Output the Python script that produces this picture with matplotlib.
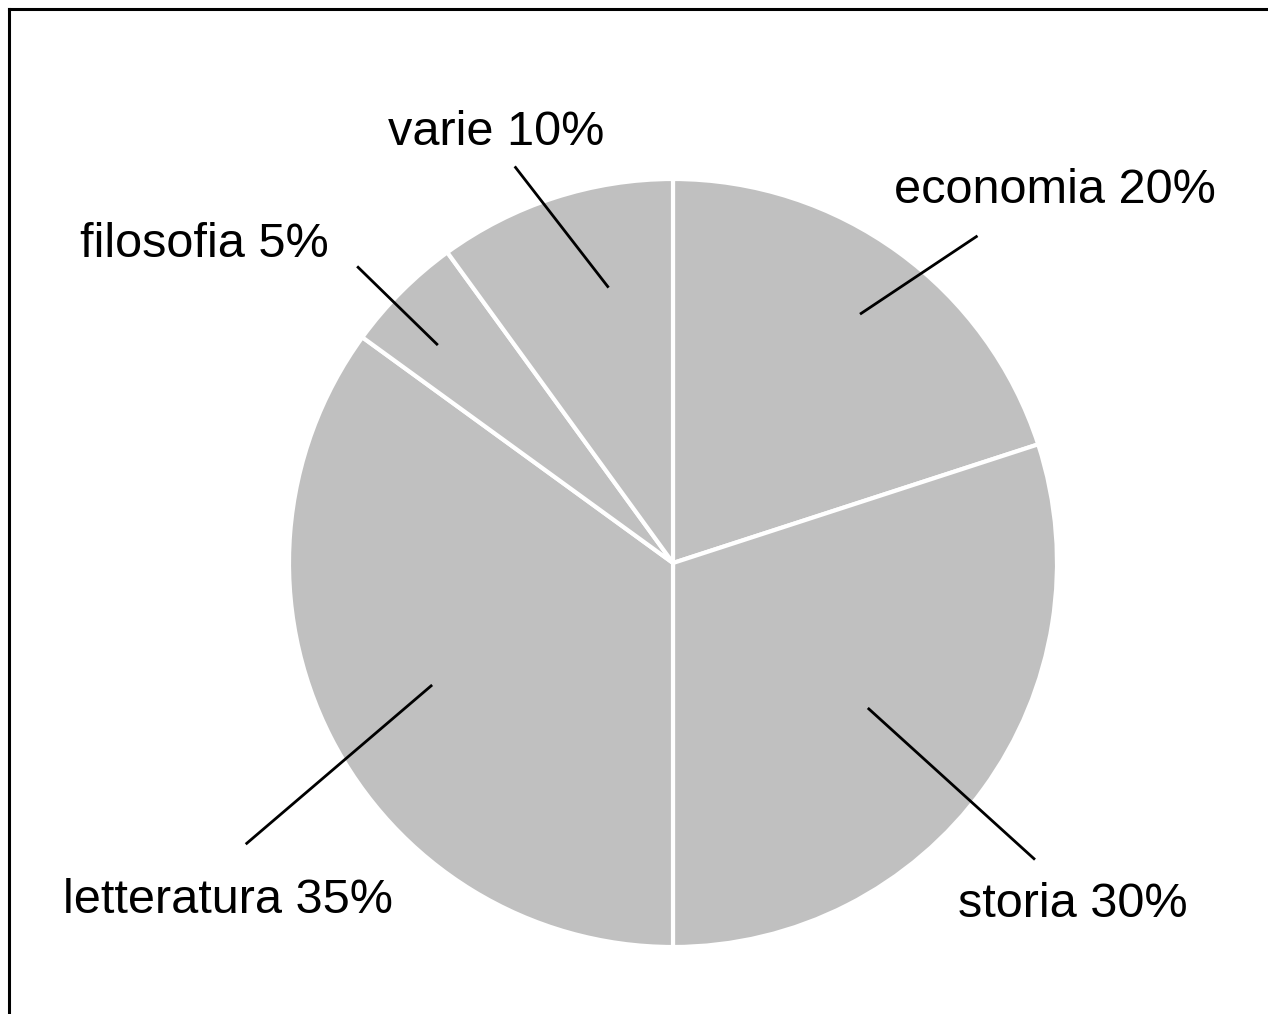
import numpy as np
import matplotlib.pyplot as plt
from matplotlib.lines import Line2D

# dati
categorie = ['economia', 'storia', 'letteratura', 'filosofia', 'varie']
percentuali = [20, 30, 35, 5, 10]

# posizione delle etichette (in raggi della torta): inizio linea, fine linea, testo
layout = {
    'economia':    ((0.49, 0.65), (0.79, 0.85), (0.995, 0.97)),
    'storia':      ((0.51, -0.38), (0.94, -0.77), (1.04, -0.89)),
    'letteratura': ((-0.63, -0.32), (-1.11, -0.73), (-1.16, -0.88)),
    'filosofia':   ((-0.615, 0.57), (-0.82, 0.77), (-1.22, 0.83)),
    'varie':       ((-0.17, 0.72), (-0.41, 1.03), (-0.46, 1.12)),
}

plt.rcParams['font.family'] = ['Liberation Sans', 'DejaVu Sans']

fig = plt.figure(figsize=(12.68, 10.14), dpi=100)
ax = fig.add_axes([0, 0, 1, 1])

ax.pie(percentuali, startangle=90, counterclock=False, radius=1,
       colors=['#c0c0c0'] * len(percentuali),
       wedgeprops=dict(edgecolor='white', linewidth=3))

for nome, p in zip(categorie, percentuali):
    start, end, testo = layout[nome]
    ax.plot([start[0], end[0]], [start[1], end[1]], color='black', lw=2)
    ax.text(testo[0], testo[1], f'{nome} {p}%', fontsize=35,
            ha='center', va='center')

ax.set_xlim(-673 / 384, (1268 - 673) / 384)
ax.set_ylim((563 - 1014) / 384, 563 / 384)
ax.axis('off')

# cornice
fig.add_artist(Line2D([9 / 1268, 9 / 1268], [0, 1 - 9 / 1014],
                      transform=fig.transFigure, color='black', lw=2.2))
fig.add_artist(Line2D([9 / 1268, 1], [1 - 9 / 1014, 1 - 9 / 1014],
                      transform=fig.transFigure, color='black', lw=2.2))

fig.savefig('out.png', dpi=100, facecolor='white')
